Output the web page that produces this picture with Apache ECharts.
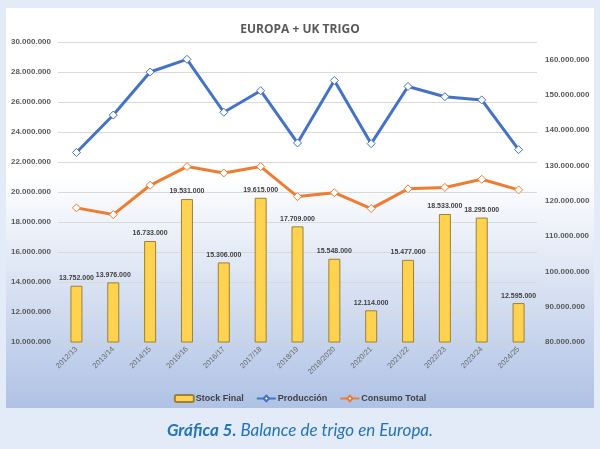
<!DOCTYPE html>
<html>
<head>
<meta charset="utf-8">
<script src="https://cdn.jsdelivr.net/npm/echarts@6/dist/echarts.min.js"></script>
<style>
html,body{margin:0;padding:0;background:#e2ebf7;}
#chart{width:600px;height:449px;}
</style>
</head>
<body>
<div id="chart"></div>
<script>
const categories = ['2012/13','2013/14','2014/15','2015/16','2016/17','2017/18','2018/19','2019/2020','2020/21','2021/22','2022/23','2023/24','2024/25'];
const stockFinal = [13752000,13976000,16733000,19531000,15306000,19615000,17709000,15548000,12114000,15477000,18533000,18295000,12595000];
const produccion = [133700000,144300000,156500000,160100000,145100000,151200000,136400000,154100000,136200000,152400000,149500000,148600000,134500000];
const consumoTotal = [118000000,116100000,124400000,129700000,127900000,129700000,121200000,122300000,117800000,123400000,123800000,126100000,123100000];
const titleText = 'EUROPA + UK TRIGO';
const captionBold = 'Gráfica 5.';
const captionText = ' Balance de trigo en Europa.';

function fmt(v){ return String(Math.round(v)).replace(/\B(?=(\d{3})+(?!\d))/g,'.'); }

const chart = echarts.init(document.getElementById('chart'));
const F = 'Liberation Sans';
chart.setOption({
  backgroundColor:'#e2ebf7',
  animation:false,
  graphic:[{
    type:'rect', z:-100, silent:true,
    shape:{x:6,y:8,width:588,height:400},
    style:{fill:new echarts.graphic.LinearGradient(0,0,0,1,[
      {offset:0,color:'#ffffff'},{offset:0.42,color:'#ffffff'},{offset:1,color:'#afc2e5'}])}
  }],
  title:[{
    text:titleText, left:'center', top:19,
    textStyle:{fontFamily:'Open Sans',fontSize:12,fontWeight:'bold',color:'#595959'}
  },{
    text:'{b|'+captionBold+'}{n|'+captionText+'}', left:'center', top:417,
    textStyle:{rich:{
      b:{fontFamily:'Lato',fontSize:17,fontWeight:'bold',fontStyle:'italic',color:'#2474b9'},
      n:{fontFamily:'Lato',fontSize:17,fontWeight:'normal',fontStyle:'italic',color:'#2474b9'}
    }}
  }],
  legend:{
    top:389, left:'center', itemWidth:19, itemHeight:7, itemGap:12,
    textStyle:{fontFamily:F,fontSize:9,fontWeight:'bold',color:'#404040',padding:[0,0,0,-3]},
    data:['Stock Final','Producción','Consumo Total']
  },
  grid:{left:58,right:63,top:42,bottom:107},
  xAxis:{
    type:'category', data:categories,
    axisLine:{lineStyle:{color:'#d0d0d0'}},
    axisTick:{show:false},
    axisLabel:{rotate:45,fontFamily:F,fontSize:7.5,color:'#6a6a6a',margin:6,interval:0}
  },
  yAxis:[{
    type:'value', min:10000000, max:30000000, interval:2000000,
    axisLabel:{formatter:fmt,fontFamily:F,fontSize:8,fontWeight:'bold',color:'#595959',margin:7},
    axisLine:{show:false}, axisTick:{show:false},
    splitLine:{lineStyle:{color:'#d9d9d9'}}
  },{
    type:'value', min:80000000, max:165000000, interval:10000000,
    axisLabel:{formatter:fmt,fontFamily:F,fontSize:8,fontWeight:'bold',color:'#595959',margin:8,showMaxLabel:false},
    axisLine:{show:false}, axisTick:{show:false}, splitLine:{show:false}
  }],
  series:[{
    name:'Stock Final', type:'bar', data:stockFinal, yAxisIndex:0, barWidth:12,
    itemStyle:{color:'#ffd24f',borderColor:'#9c8236',borderWidth:1},
    label:{show:true,position:'top',distance:4,formatter:p=>fmt(p.value),
      fontFamily:F,fontSize:7,fontWeight:'bold',color:'#404040'}
  },{
    name:'Producción', type:'line', data:produccion, yAxisIndex:1,
    symbol:'diamond', symbolSize:8,
    lineStyle:{color:'#4472c4',width:3},
    itemStyle:{color:'#ffffff',borderColor:'#4472c4',borderWidth:1}
  },{
    name:'Consumo Total', type:'line', data:consumoTotal, yAxisIndex:1,
    symbol:'diamond', symbolSize:8,
    lineStyle:{color:'#ed7d31',width:3},
    itemStyle:{color:'#ffffff',borderColor:'#ed7d31',borderWidth:1}
  }]
});
</script>
</body>
</html>
